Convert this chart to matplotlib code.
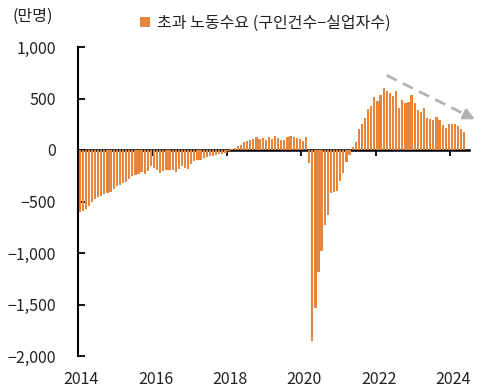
import matplotlib
matplotlib.use('Agg')
import matplotlib.pyplot as plt
import matplotlib.transforms as mtransforms
import numpy as np

plt.rcParams['font.family'] = ['Noto Sans CJK KR', 'DejaVu Sans']

# Excess labour demand (job openings - unemployed), unit: 10k persons, monthly
years = [2014, 2015, 2016, 2017, 2018, 2019, 2020, 2021, 2022, 2023, 2024]
v2014 = [-600, -590, -575, -540, -505, -480, -460, -445, -430, -420, -410, -380]
v2015 = [-350, -335, -325, -315, -280, -250, -240, -230, -215, -235, -200, -160]
v2016 = [-170, -190, -225, -200, -190, -190, -195, -210, -185, -155, -170, -180]
v2017 = [-140, -110, -100, -95, -80, -65, -62, -60, -45, -35, -40, -30]
v2018 = [-10, 10, 20, 35, 50, 75, 85, 100, 105, 130, 110, 120]
v2019 = [95, 125, 110, 140, 120, 100, 100, 130, 135, 130, 115, 110]
v2020 = [90, 125, -130, -1850, -1530, -1180, -980, -730, -630, -420, -410, -400]
v2021 = [-300, -220, -120, -50, 30, 80, 200, 250, 310, 400, 430, 510]
v2022 = [480, 530, 605, 575, 550, 520, 570, 410, 490, 460, 470, 530]
v2023 = [460, 390, 370, 410, 310, 300, 290, 320, 290, 240, 210, 250]
v2024 = [250, 250, 230, 200, 175]
series = [v2014, v2015, v2016, v2017, v2018, v2019, v2020, v2021, v2022, v2023, v2024]

series_label = '초과 노동수요 (구인건수\u2212실업자수)'
unit_label = '(만명)'
yticks = [-2000, -1500, -1000, -500, 0, 500, 1000]
xticks = [2014, 2016, 2018, 2020, 2022, 2024]

# trend arrow (start, end) in data coords
arrow_start = (2022.29, 725)
arrow_end = (2024.66, 298)

x = []
vals = []
for yr, vs in zip(years, series):
    for m, v in enumerate(vs):
        x.append(yr + (m + 0.5) / 12)
        vals.append(v)
x = np.array(x)
vals = np.array(vals)

orange = '#E8853D'
FS = 11.5
W, H = 484, 391
fig = plt.figure(figsize=(W / 100, H / 100), dpi=100)
ax = fig.add_axes([78 / W, 35 / H, 391 / W, 309 / H])

bars = ax.bar(x, vals, width=0.72 / 12, color=orange, zorder=2, label=series_label)

ax.set_xlim(2014, 2024.5)
ax.set_ylim(-2000, 1000)

for s in ['top', 'right', 'bottom']:
    ax.spines[s].set_visible(False)
ax.spines['left'].set_linewidth(1.5)
ax.spines['left'].set_color('black')

ax.set_yticks(yticks)
ax.set_yticklabels([f'{v:,}'.replace('-', '\u2212') for v in yticks])
ax.tick_params(axis='y', direction='in', length=5, width=1.3, pad=16,
               labelsize=FS, colors='#222222')
ax.tick_params(axis='y', color='black')

ax.set_xticks(xticks)
ax.set_xticklabels([str(t) for t in xticks])
ax.tick_params(axis='x', length=0, pad=11, labelsize=FS, labelcolor='#222222')
offset = mtransforms.ScaledTranslation(3 / 100, 0, fig.dpi_scale_trans)
for lab in ax.get_xticklabels():
    lab.set_transform(lab.get_transform() + offset)

# zero line axis with ticks
sec = ax.secondary_xaxis(2000 / 3000)
sec.set_xticks(xticks)
sec.tick_params(axis='x', direction='in', length=4, width=1.3, labeltop=False,
                labelbottom=False, color='black')
for s in sec.spines.values():
    s.set_linewidth(1.8)
    s.set_color('black')

# dashed trend arrow
gray = '#B3B3B3'
frac = 0.93
mid = (arrow_start[0] + (arrow_end[0] - arrow_start[0]) * frac,
       arrow_start[1] + (arrow_end[1] - arrow_start[1]) * frac)
ax.plot([arrow_start[0], mid[0]], [arrow_start[1], mid[1]], color=gray, lw=2,
        linestyle=(0, (4, 2.5)), clip_on=False, zorder=3)
ax.annotate('', xy=arrow_end, xytext=mid, annotation_clip=False,
            arrowprops=dict(arrowstyle='-|>', color=gray, lw=2,
                            mutation_scale=16, shrinkA=0, shrinkB=0), zorder=3)

fig.text(12 / W, 1 - 16 / H, unit_label, ha='left', va='center', fontsize=FS,
         color='#222222')

fig.legend(handles=[bars], labels=[series_label], loc='center left',
           bbox_to_anchor=(140 / W, 1 - 23 / H), frameon=False, fontsize=FS,
           handlelength=0.65, handleheight=0.65, handletextpad=0.4,
           borderpad=0, borderaxespad=0, labelcolor='#222222')

fig.savefig('out.png', dpi=100)
